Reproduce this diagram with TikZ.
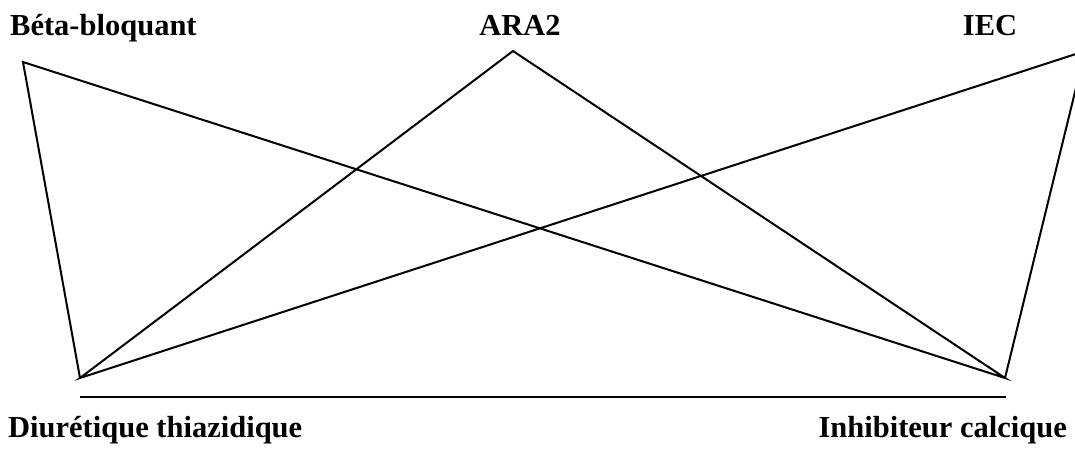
\documentclass[tikz,border=0pt]{standalone}
\usepackage{fontspec}
\setmainfont{Liberation Serif}
\usepackage{tikz}
\usetikzlibrary{positioning}

\begin{document}
\begin{tikzpicture}[x=1pt,y=-1pt,lbl/.style={inner sep=0pt,font=\fontsize{30.5}{34}\selectfont\bfseries}]
\useasboundingbox (0,0) rectangle (1075,448);
% sommets
\coordinate (BB) at (23,62);
\coordinate (ARA) at (513,51);
\coordinate (IEC) at (1085,51);
\coordinate (DT) at (80,378);
\coordinate (IC) at (1005,378);
\coordinate (DTh) at (80,397);
\coordinate (ICh) at (1006,397);
% libelles
\node[lbl,anchor=base west] (lBB) at (10,35) {Béta-bloquant};
\node[lbl,anchor=base] (lARA) at (520,35) {ARA2};
\node[lbl,anchor=base] (lIEC) at (990,35) {IEC};
\node[lbl,anchor=base west] (lDT) at (8,437) {Diurétique thiazidique};
\node[lbl,anchor=base east] (lIC) at (1067,437) {Inhibiteur calcique};
% aretes
\draw[line width=2pt,line join=miter] (DT) -- (BB) -- (IC) -- (ARA) -- (DT) -- (IEC) -- (IC);
\draw[line width=2pt] (DTh) -- (ICh);
\end{tikzpicture}
\end{document}
